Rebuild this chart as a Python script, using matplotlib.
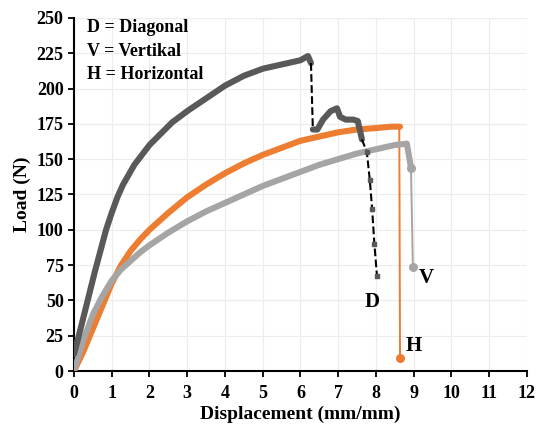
import numpy as np
import matplotlib
matplotlib.use('Agg')
import matplotlib.pyplot as plt

plt.rcParams['font.family'] = ['Liberation Serif', 'DejaVu Serif']
plt.rcParams['font.weight'] = 'bold'

# Diagonal (D) - main curve up to first failure
d_x = [0, 0.1, 0.25, 0.4, 0.55, 0.7, 0.85, 1.0, 1.15, 1.3, 1.45, 1.6, 1.8, 2.0, 2.3, 2.6, 3.0, 3.5, 4.0, 4.5, 5.0, 5.5, 6.0, 6.2, 6.28]
d_y = [12, 22, 38, 54, 70, 85, 100, 112, 123, 132, 139, 146, 153, 160, 168, 176, 184, 193, 202, 209, 214, 217, 220, 223, 218]
# Diagonal - part after first drop
d2_x = [6.33, 6.45, 6.6, 6.8, 6.97, 7.05, 7.2, 7.4, 7.52, 7.58, 7.63]
d2_y = [171, 171, 178, 184, 186, 180, 178, 178, 177, 170, 164]
# Diagonal - dashed drops
drop1_x = [6.28, 6.33]
drop1_y = [218, 171]
drop2_x = [7.63, 7.76, 7.84, 7.9, 7.96, 8.03]
drop2_y = [164, 155, 135, 115, 90, 67]

# Horizontal (H)
h_x = [0, 0.25, 0.5, 0.75, 1.0, 1.25, 1.5, 1.75, 2.0, 2.5, 3.0, 3.5, 4.0, 4.5, 5.0, 5.5, 6.0, 6.5, 7.0, 7.5, 8.0, 8.4, 8.64]
h_y = [0, 14, 30, 46, 62, 75, 85, 93, 100, 112, 123, 132, 140, 147, 153, 158, 163, 166, 169, 171, 172, 173, 173]
h_drop_x = [8.62, 8.64]
h_drop_y = [173, 9]

# Vertikal (V)
v_x = [0, 0.25, 0.5, 0.75, 1.0, 1.25, 1.5, 1.75, 2.0, 2.5, 3.0, 3.5, 4.0, 4.5, 5.0, 5.5, 6.0, 6.5, 7.0, 7.5, 8.0, 8.5, 8.82, 8.86, 8.93]
v_y = [0, 22, 40, 53, 64, 72, 78, 84, 89, 98, 106, 113, 119, 125, 131, 136, 141, 146, 150, 154, 157, 160, 161, 155, 144]
v_drop_x = [8.93, 8.98]
v_drop_y = [144, 74]

legend_lines = ['D = Diagonal', 'V = Vertikal', 'H = Horizontal']

fig = plt.figure(figsize=(5.42, 4.26), dpi=100)
ax = fig.add_axes([0.1365, 0.129, 0.8355, 0.829])

dark = '#595959'
orange = '#ed7d31'
grey = '#a5a5a5'
lw = 4.4

ax.plot(h_x, h_y, color=orange, lw=lw, solid_capstyle='round', solid_joinstyle='round', zorder=3)
ax.plot(h_drop_x, h_drop_y, color=orange, lw=1.4, zorder=3)
ax.plot(h_drop_x[-1], h_drop_y[-1], 'o', color=orange, ms=5.5, zorder=4)

ax.plot(v_x, v_y, color=grey, lw=lw, solid_capstyle='round', solid_joinstyle='round', zorder=3)
ax.plot(v_drop_x, v_drop_y, color=grey, lw=1.4, zorder=3)
ax.plot(v_drop_x[-1], v_drop_y[-1], 'o', color=grey, ms=5.5, zorder=4)
ax.plot(v_x[-1], v_y[-1], 'o', color=grey, ms=5.5, zorder=4)

ax.plot(d_x, d_y, color=dark, lw=lw, solid_capstyle='round', solid_joinstyle='round', zorder=3)
ax.plot(d2_x, d2_y, color=dark, lw=lw, solid_capstyle='round', solid_joinstyle='round', zorder=3)
ax.plot(drop1_x, drop1_y, color='black', lw=1.5, ls='--', zorder=3)
ax.plot(drop2_x, drop2_y, color='black', lw=1.5, ls='--', zorder=3)
ax.plot(drop2_x[1:], drop2_y[1:], 's', color=dark, ms=3, zorder=4)

ax.set_xlim(0, 12)
ax.set_ylim(0, 250)
ax.set_xticks(range(0, 13))
ax.set_yticks(range(0, 251, 25))
ax.grid(True, color='#ececec', lw=0.8)
ax.set_axisbelow(True)
for s in ['top', 'right']:
    ax.spines[s].set_visible(False)
for s in ['left', 'bottom']:
    ax.spines[s].set_linewidth(1.5)
ax.tick_params(labelsize=13, width=1.3, length=4)
ax.tick_params(axis='x', pad=6)
for lab in ax.get_xticklabels() + ax.get_yticklabels():
    lab.set_fontweight('bold')
ax.set_xlabel('Displacement (mm/mm)', fontsize=14, fontweight='bold', labelpad=3)
ax.set_ylabel('Load (N)', fontsize=14, fontweight='bold', labelpad=4)

for i, t in enumerate(legend_lines):
    ax.text(0.34, 243 - i * 16.5, t, fontsize=13, fontweight='bold', va='center')

ax.text(7.9, 49, 'D', fontsize=15, fontweight='bold', ha='center', va='center')
ax.text(9.35, 66, 'V', fontsize=15, fontweight='bold', ha='center', va='center')
ax.text(9.0, 18, 'H', fontsize=15, fontweight='bold', ha='center', va='center')

fig.savefig('out.png', dpi=100)
